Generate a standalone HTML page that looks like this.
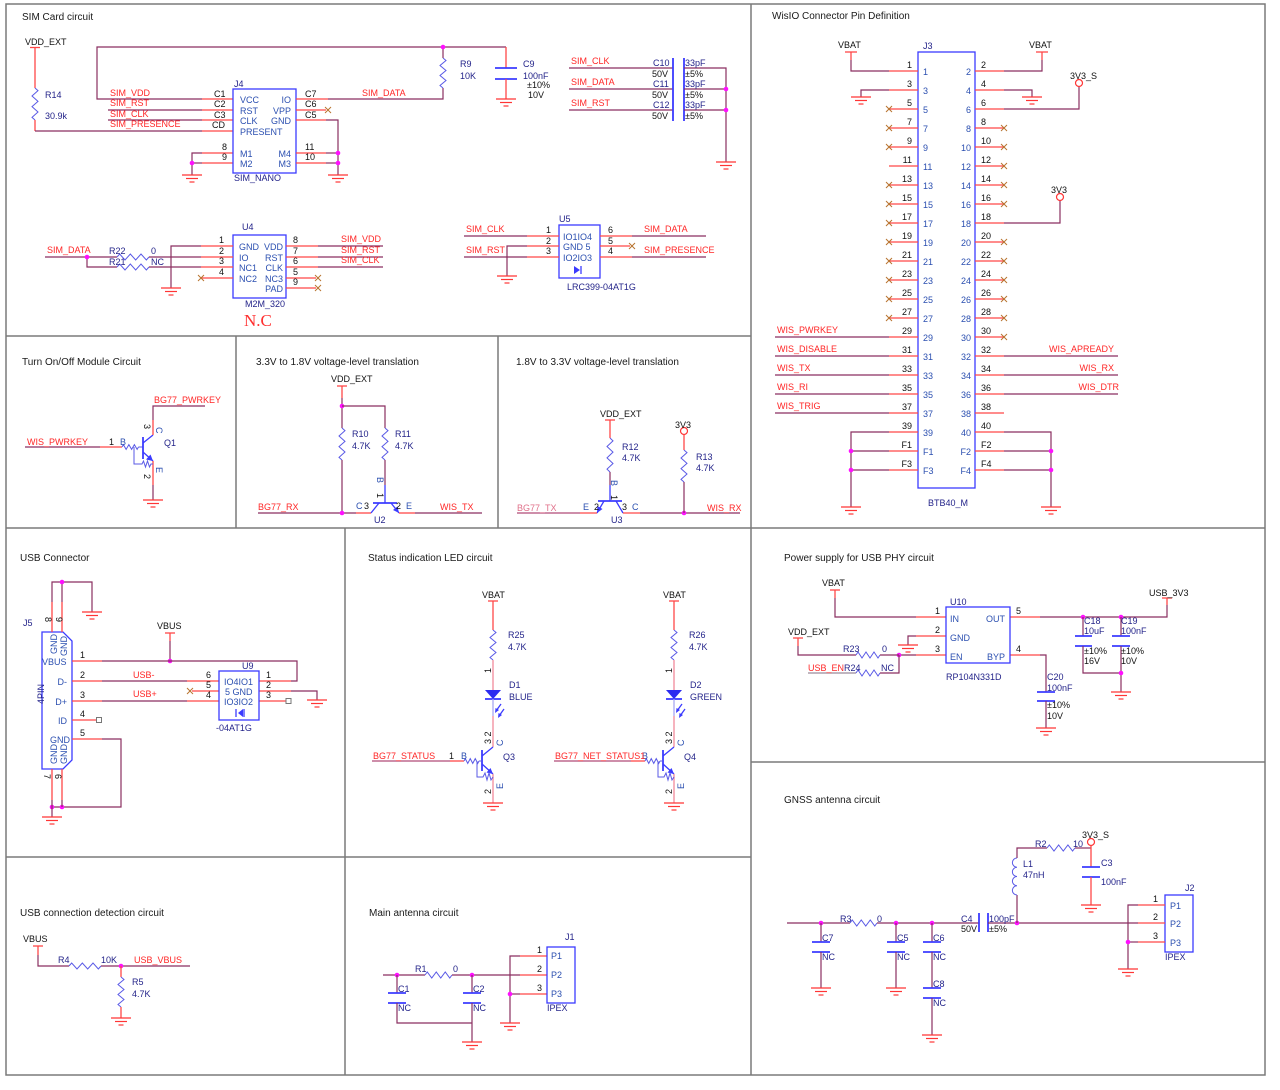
<!DOCTYPE html>
<html><head><meta charset="utf-8"><style>
html,body{margin:0;padding:0;background:#fff}
svg{display:block}
text{font-family:"Liberation Sans",Arial,sans-serif;font-size:9px}
.t{font-size:10px;fill:#1a1a1a}
.n{fill:#ff2626}
.r{fill:#24248a}
.k{fill:#111}
.i{fill:#2b4fb0}
.e{text-anchor:end}
.w{stroke:#8a2f60;stroke-width:1.2;fill:none}
.p{stroke:#ff4747;stroke-width:1.3;fill:none}
.b{stroke:#3b3bff;stroke-width:1.3;fill:none}
.bb{stroke:#3b3bff;stroke-width:1.8;fill:none}
.z{stroke:#5a5ae6;stroke-width:1;fill:none}
.fr{stroke:#7a7a7a;stroke-width:1.5;fill:none}
.d{fill:#ff10ff}
.o{stroke:#ff3535;stroke-width:1.2;fill:none}
</style></head><body>
<svg width="1280" height="1090" viewBox="0 0 1280 1090" xmlns="http://www.w3.org/2000/svg">
<defs>
<g id="gnd" stroke="#ff3535" stroke-width="1.2"><line x1="-10" y1="0" x2="10" y2="0"/><line x1="-6" y1="3.5" x2="6" y2="3.5"/><line x1="-2.5" y1="7" x2="2.5" y2="7"/></g>
<g id="xm" stroke="#b8732f" stroke-width="1"><line x1="-3" y1="-3" x2="3" y2="3"/><line x1="-3" y1="3" x2="3" y2="-3"/></g>
<polyline id="rv" fill="none" vector-effect="non-scaling-stroke" points="0,0 3,2.5 -3,7.5 3,12.5 -3,17.5 3,22.5 -3,27.5 0,30"/>
<polyline id="rh" fill="none" vector-effect="non-scaling-stroke" points="0,0 2.5,-3 7.5,3 12.5,-3 17.5,3 22.5,-3 27.5,3 30,0"/>
</defs>
<rect x="0" y="0" width="1280" height="1090" fill="#fff"/>

<!-- frame -->
<rect class="fr" x="6" y="4" width="1259" height="1071"/>
<line class="fr" x1="751" y1="4" x2="751" y2="1075"/>
<line class="fr" x1="6" y1="336" x2="751" y2="336"/>
<line class="fr" x1="236" y1="336" x2="236" y2="528"/>
<line class="fr" x1="498" y1="336" x2="498" y2="528"/>
<line class="fr" x1="6" y1="528" x2="1265" y2="528"/>
<line class="fr" x1="345" y1="528" x2="345" y2="1075"/>
<line class="fr" x1="6" y1="857" x2="751" y2="857"/>
<line class="fr" x1="751" y1="762" x2="1265" y2="762"/>

<!-- ============ SIM CARD ============ -->
<text class="t" x="22" y="20">SIM Card circuit</text>
<text class="k" x="25" y="45">VDD_EXT</text>
<line class="p" x1="30" y1="47.5" x2="40" y2="47.5"/>
<line class="p" x1="35" y1="47.5" x2="35" y2="88"/>
<use href="#rv" class="z" transform="translate(35,88) scale(1,1.067)"/>
<line class="p" x1="35" y1="120" x2="35" y2="131"/>
<text class="r" x="45" y="98">R14</text><text class="r" x="45" y="119">30.9k</text>
<polyline class="w" points="35,131 202,131"/>
<polyline class="w" points="202,99 97,99 97,47 506,47"/>
<line class="w" x1="108" y1="110" x2="202" y2="110"/>
<line class="w" x1="108" y1="120" x2="202" y2="120"/>
<path class="p" d="M202,99h31M202,110h31M202,120h31M202,131h31M202,153h31M202,163h31"/>
<text class="n" x="110" y="96">SIM_VDD</text>
<text class="n" x="110" y="106">SIM_RST</text>
<text class="n" x="110" y="117">SIM_CLK</text>
<text class="n" x="110" y="127">SIM_PRESENCE</text>
<text class="k" x="214" y="97">C1</text><text class="k" x="214" y="107">C2</text><text class="k" x="214" y="118">C3</text><text class="k" x="212" y="128">CD</text>
<text class="k" x="222" y="150">8</text><text class="k" x="222" y="160">9</text>
<rect class="b" x="233" y="89" width="63" height="84"/>
<text class="r" x="234" y="87">J4</text>
<text class="i" x="240" y="103">VCC</text><text class="i" x="240" y="114">RST</text><text class="i" x="240" y="124">CLK</text><text class="i" x="240" y="135">PRESENT</text>
<text class="i e" x="291" y="103">IO</text><text class="i e" x="291" y="114">VPP</text><text class="i e" x="291" y="124">GND</text>
<text class="i" x="240" y="157">M1</text><text class="i" x="240" y="167">M2</text>
<text class="i e" x="291" y="157">M4</text><text class="i e" x="291" y="167">M3</text>
<text class="r" x="234" y="181">SIM_NANO</text>
<path class="p" d="M296,99h32M296,110h30M296,120h30M296,153h30M296,163h30"/>
<text class="k" x="305" y="97">C7</text><text class="k" x="305" y="107">C6</text><text class="k" x="305" y="118">C5</text>
<text class="k" x="305" y="150">11</text><text class="k" x="305" y="160">10</text>
<use href="#xm" x="328" y="110"/>
<polyline class="w" points="328,99 443,99 443,88"/>
<polyline class="w" points="326,120 338,120 338,175"/>
<line class="w" x1="326" y1="153" x2="338" y2="153"/><line class="w" x1="326" y1="163" x2="338" y2="163"/>
<circle class="d" cx="338" cy="153" r="2.3"/><circle class="d" cx="338" cy="163" r="2.3"/>
<use href="#gnd" x="338" y="175"/>
<polyline class="w" points="202,153 192,153 192,175"/>
<line class="w" x1="192" y1="163" x2="202" y2="163"/>
<circle class="d" cx="192" cy="163" r="2.3"/>
<use href="#gnd" x="192" y="175"/>
<text class="n" x="362" y="96">SIM_DATA</text>
<use href="#rv" class="z" transform="translate(443,58)"/>
<line class="w" x1="443" y1="47" x2="443" y2="58"/>
<circle class="d" cx="443" cy="47" r="2.3"/>
<text class="r" x="460" y="67">R9</text><text class="r" x="460" y="79">10K</text>
<line class="p" x1="506" y1="47" x2="506" y2="68"/>
<line class="bb" x1="495" y1="68" x2="517" y2="68"/><line class="bb" x1="495" y1="79" x2="517" y2="79"/>
<line class="p" x1="506" y1="79" x2="506" y2="99"/>
<use href="#gnd" x="506" y="99"/>
<text class="r" x="523" y="67">C9</text><text class="r" x="523" y="79">100nF</text><text class="k" x="527" y="88">±10%</text><text class="k" x="528" y="98">10V</text>

<text class="n" x="571" y="64">SIM_CLK</text><text class="n" x="571" y="85">SIM_DATA</text><text class="n" x="571" y="106">SIM_RST</text>
<path class="w" d="M569,68h104M569,89h104M569,110h104"/>
<line class="bb" x1="673" y1="58" x2="673" y2="121"/><line class="bb" x1="684" y1="58" x2="684" y2="121"/>
<polyline class="w" points="684,68 726,68 726,162"/>
<path class="w" d="M684,89h42M684,110h42"/>
<circle class="d" cx="726" cy="89" r="2.3"/><circle class="d" cx="726" cy="110" r="2.3"/>
<use href="#gnd" x="726" y="162"/>
<text class="r" x="653" y="66">C10</text><text class="k" x="652" y="77">50V</text>
<text class="r" x="653" y="87">C11</text><text class="k" x="652" y="98">50V</text>
<text class="r" x="653" y="108">C12</text><text class="k" x="652" y="119">50V</text>
<text class="r" x="685" y="66">33pF</text><text class="k" x="685" y="77">±5%</text>
<text class="r" x="685" y="87">33pF</text><text class="k" x="685" y="98">±5%</text>
<text class="r" x="685" y="108">33pF</text><text class="k" x="685" y="119">±5%</text>

<!-- U4 -->
<rect class="b" x="233" y="235" width="53" height="63"/>
<text class="r" x="242" y="230">U4</text>
<path class="p" d="M201,246h32M201,257h32M201,267h32M201,278h32M286,246h32M286,257h32M286,267h32M286,278h30M286,288h30"/>
<text class="k" x="219" y="243">1</text><text class="k" x="219" y="254">2</text><text class="k" x="219" y="264">3</text><text class="k" x="219" y="275">4</text>
<text class="k" x="293" y="243">8</text><text class="k" x="293" y="254">7</text><text class="k" x="293" y="264">6</text><text class="k" x="293" y="275">5</text><text class="k" x="293" y="285">9</text>
<text class="i" x="239" y="250">GND</text><text class="i" x="239" y="261">IO</text><text class="i" x="239" y="271">NC1</text><text class="i" x="239" y="282">NC2</text>
<text class="i e" x="283" y="250">VDD</text><text class="i e" x="283" y="261">RST</text><text class="i e" x="283" y="271">CLK</text><text class="i e" x="283" y="282">NC3</text><text class="i e" x="283" y="292">PAD</text>
<polyline class="w" points="201,246 171,246 171,288"/>
<use href="#gnd" x="171" y="288"/>
<line class="w" x1="45" y1="257" x2="117" y2="257"/>
<use href="#rh" class="z" transform="translate(117,257) scale(1.067,1)"/>
<line class="w" x1="149" y1="257" x2="201" y2="257"/>
<polyline class="w" points="87,257 87,267 117,267"/>
<use href="#rh" class="z" transform="translate(117,267) scale(1.067,1)"/>
<line class="w" x1="149" y1="267" x2="201" y2="267"/>
<circle class="d" cx="87" cy="257" r="2.3"/>
<use href="#xm" x="201" y="278"/>
<use href="#xm" x="318" y="278"/><use href="#xm" x="318" y="288"/>
<path class="w" d="M318,246h65M318,257h65M318,267h65"/>
<text class="n" x="47" y="253">SIM_DATA</text>
<text class="r" x="109" y="254">R22</text><text class="r" x="151" y="254">0</text>
<text class="r" x="109" y="265">R21</text><text class="r" x="151" y="265">NC</text>
<text class="n" x="341" y="242">SIM_VDD</text><text class="n" x="341" y="253">SIM_RST</text><text class="n" x="341" y="263">SIM_CLK</text>
<text class="r" x="245" y="307">M2M_320</text>
<text x="244" y="326" style="font-family:'Liberation Serif',serif;font-size:17px;fill:#ff3030">N.C</text>

<!-- U5 -->
<rect class="b" x="559" y="225" width="41" height="53"/>
<text class="r" x="559" y="222">U5</text>
<path class="p" d="M527,236h32M527,246h32M527,257h32M600,236h32M600,246h30M600,257h32"/>
<path class="w" d="M464,236h63M464,257h63"/>
<polyline class="w" points="527,246 507,246 507,276"/>
<use href="#gnd" x="507" y="276"/>
<use href="#xm" x="632" y="246"/>
<path class="w" d="M632,236h74M632,257h74"/>
<text class="k" x="546" y="233">1</text><text class="k" x="546" y="244">2</text><text class="k" x="546" y="254">3</text>
<text class="k" x="608" y="233">6</text><text class="k" x="608" y="244">5</text><text class="k" x="608" y="254">4</text>
<text class="i" x="563" y="240">IO1IO4</text><text class="i" x="563" y="250">GND  5</text><text class="i" x="563" y="261">IO2IO3</text>
<polygon points="574,266 574,274 580,270" fill="#3b3bff"/><line class="b" x1="581" y1="266" x2="581" y2="274"/>
<text class="n" x="466" y="232">SIM_CLK</text><text class="n" x="466" y="253">SIM_RST</text>
<text class="n" x="644" y="232">SIM_DATA</text><text class="n" x="644" y="253">SIM_PRESENCE</text>
<text class="r" x="567" y="290">LRC399-04AT1G</text>

<!-- ============ WisIO ============ -->
<text class="t" x="772" y="19">WisIO Connector Pin Definition</text>
<rect class="b" x="918" y="52" width="57" height="436"/>
<text class="r" x="923" y="49">J3</text>
<text class="r" x="928" y="506">BTB40_M</text>
<path class="p" d="M889,71h29M889,90h29M889,109h29M889,128h29M889,147h29M889,166h29M889,185h29M889,204h29M889,223h29M889,242h29M889,261h29M889,280h29M889,299h29M889,318h29M889,337h29M889,356h29M889,375h29M889,394h29M889,413h29M889,432h29M889,451h29M889,470h29"/>
<path class="p" d="M975,71h29M975,90h29M975,109h29M975,128h29M975,147h29M975,166h29M975,185h29M975,204h29M975,223h29M975,242h29M975,261h29M975,280h29M975,299h29M975,318h29M975,337h29M975,356h29M975,375h29M975,394h29M975,413h29M975,432h29M975,451h29M975,470h29"/>
<g class="k e">
<text x="912" y="68">1</text><text x="912" y="87">3</text><text x="912" y="106">5</text><text x="912" y="125">7</text><text x="912" y="144">9</text><text x="912" y="163">11</text><text x="912" y="182">13</text><text x="912" y="201">15</text><text x="912" y="220">17</text><text x="912" y="239">19</text><text x="912" y="258">21</text><text x="912" y="277">23</text><text x="912" y="296">25</text><text x="912" y="315">27</text><text x="912" y="334">29</text><text x="912" y="353">31</text><text x="912" y="372">33</text><text x="912" y="391">35</text><text x="912" y="410">37</text><text x="912" y="429">39</text><text x="912" y="448">F1</text><text x="912" y="467">F3</text>
</g>
<g class="i">
<text x="923" y="75">1</text><text x="923" y="94">3</text><text x="923" y="113">5</text><text x="923" y="132">7</text><text x="923" y="151">9</text><text x="923" y="170">11</text><text x="923" y="189">13</text><text x="923" y="208">15</text><text x="923" y="227">17</text><text x="923" y="246">19</text><text x="923" y="265">21</text><text x="923" y="284">23</text><text x="923" y="303">25</text><text x="923" y="322">27</text><text x="923" y="341">29</text><text x="923" y="360">31</text><text x="923" y="379">33</text><text x="923" y="398">35</text><text x="923" y="417">37</text><text x="923" y="436">39</text><text x="923" y="455">F1</text><text x="923" y="474">F3</text>
</g>
<g class="i e">
<text x="971" y="75">2</text><text x="971" y="94">4</text><text x="971" y="113">6</text><text x="971" y="132">8</text><text x="971" y="151">10</text><text x="971" y="170">12</text><text x="971" y="189">14</text><text x="971" y="208">16</text><text x="971" y="227">18</text><text x="971" y="246">20</text><text x="971" y="265">22</text><text x="971" y="284">24</text><text x="971" y="303">26</text><text x="971" y="322">28</text><text x="971" y="341">30</text><text x="971" y="360">32</text><text x="971" y="379">34</text><text x="971" y="398">36</text><text x="971" y="417">38</text><text x="971" y="436">40</text><text x="971" y="455">F2</text><text x="971" y="474">F4</text>
</g>
<g class="k">
<text x="981" y="68">2</text><text x="981" y="87">4</text><text x="981" y="106">6</text><text x="981" y="125">8</text><text x="981" y="144">10</text><text x="981" y="163">12</text><text x="981" y="182">14</text><text x="981" y="201">16</text><text x="981" y="220">18</text><text x="981" y="239">20</text><text x="981" y="258">22</text><text x="981" y="277">24</text><text x="981" y="296">26</text><text x="981" y="315">28</text><text x="981" y="334">30</text><text x="981" y="353">32</text><text x="981" y="372">34</text><text x="981" y="391">36</text><text x="981" y="410">38</text><text x="981" y="429">40</text><text x="981" y="448">F2</text><text x="981" y="467">F4</text>
</g>
<use href="#xm" x="889" y="109"/><use href="#xm" x="889" y="128"/><use href="#xm" x="889" y="147"/><use href="#xm" x="889" y="185"/><use href="#xm" x="889" y="204"/><use href="#xm" x="889" y="223"/><use href="#xm" x="889" y="242"/><use href="#xm" x="889" y="261"/><use href="#xm" x="889" y="280"/><use href="#xm" x="889" y="299"/><use href="#xm" x="889" y="318"/>
<use href="#xm" x="1004" y="128"/><use href="#xm" x="1004" y="147"/><use href="#xm" x="1004" y="166"/><use href="#xm" x="1004" y="185"/><use href="#xm" x="1004" y="204"/><use href="#xm" x="1004" y="242"/><use href="#xm" x="1004" y="261"/><use href="#xm" x="1004" y="280"/><use href="#xm" x="1004" y="299"/><use href="#xm" x="1004" y="318"/><use href="#xm" x="1004" y="337"/>
<text class="k" x="838" y="48">VBAT</text><text class="k" x="1029" y="48">VBAT</text>
<line class="p" x1="845" y1="52" x2="857" y2="52"/><line class="p" x1="851" y1="52" x2="851" y2="60"/>
<polyline class="w" points="889,71 851,71 851,60"/>
<line class="p" x1="1036" y1="52" x2="1048" y2="52"/><line class="p" x1="1042" y1="52" x2="1042" y2="60"/>
<polyline class="w" points="1004,71 1042,71 1042,60"/>
<polyline class="w" points="889,90 861,90 861,97"/><use href="#gnd" x="861" y="97"/>
<polyline class="w" points="1004,90 1032,90 1032,97"/><use href="#gnd" x="1032" y="97"/>
<polyline class="w" points="1004,109 1079,109 1079,87"/><circle class="o" cx="1079" cy="83" r="3.5"/>
<text class="k" x="1070" y="79">3V3_S</text>
<polyline class="w" points="1004,223 1060,223 1060,201"/><circle class="o" cx="1060" cy="197" r="3.5"/>
<text class="k" x="1051" y="193">3V3</text>
<path class="w" d="M775,337h114M775,356h114M775,375h114M775,394h114M775,413h114M1004,356h114M1004,375h114M1004,394h114"/>
<text class="n" x="777" y="333">WIS_PWRKEY</text><text class="n" x="777" y="352">WIS_DISABLE</text><text class="n" x="777" y="371">WIS_TX</text><text class="n" x="777" y="390">WIS_RI</text><text class="n" x="777" y="409">WIS_TRIG</text>
<text class="n e" x="1114" y="352">WIS_APREADY</text><text class="n e" x="1114" y="371">WIS_RX</text><text class="n e" x="1119" y="390">WIS_DTR</text>
<polyline class="w" points="889,432 851,432 851,507"/><path class="w" d="M851,451h38M851,470h38"/>
<circle class="d" cx="851" cy="451" r="2.3"/><circle class="d" cx="851" cy="470" r="2.3"/><use href="#gnd" x="851" y="507"/>
<polyline class="w" points="1004,432 1051,432 1051,507"/><path class="w" d="M1004,451h47M1004,470h47"/>
<circle class="d" cx="1051" cy="451" r="2.3"/><circle class="d" cx="1051" cy="470" r="2.3"/><use href="#gnd" x="1051" y="507"/>

<!-- ============ Turn On/Off ============ -->
<text class="t" x="22" y="365">Turn On/Off Module Circuit</text>
<line class="w" x1="25" y1="447" x2="100" y2="447"/>
<line class="p" x1="100" y1="447" x2="122" y2="447"/>
<use href="#rh" class="z" transform="translate(122,447) scale(0.55,0.8)"/>
<line class="z" x1="138.5" y1="447" x2="143" y2="447"/>
<line class="bb" x1="143" y1="437" x2="143" y2="459"/>
<line class="b" x1="143" y1="443" x2="153" y2="435"/>
<line class="p" x1="153" y1="435" x2="153" y2="420"/>
<polyline class="w" points="153,420 153,406 205,406"/>
<line class="b" x1="143" y1="452" x2="153" y2="461"/>
<polygon points="153,461 146,459.5 150.5,454.5" fill="#3b3bff"/>
<line class="p" x1="153" y1="461" x2="153" y2="485"/>
<line class="w" x1="153" y1="485" x2="153" y2="500"/>
<use href="#gnd" x="153" y="500"/>
<polyline class="z" points="134,447 134,464 142,464 143.5,461 145.5,467 147.5,461 149.5,467 151,464 153,464"/>
<text class="n" x="27" y="445">WIS_PWRKEY</text>
<text class="k" x="109" y="445">1</text><text class="i" x="120" y="445">B</text>
<text class="r" x="164" y="446">Q1</text>
<text class="n" x="154" y="403">BG77_PWRKEY</text>
<text class="k" transform="translate(144,424) rotate(90)">3</text>
<text class="i" transform="translate(156,427) rotate(90)">C</text>
<text class="k" transform="translate(144,474) rotate(90)">2</text>
<text class="i" transform="translate(156,467) rotate(90)">E</text>

<!-- ============ 3.3 -> 1.8 ============ -->
<text class="t" x="256" y="365">3.3V to 1.8V voltage-level translation</text>
<text class="k" x="331" y="382">VDD_EXT</text>
<line class="p" x1="337" y1="386" x2="347" y2="386"/>
<line class="p" x1="342" y1="386" x2="342" y2="398"/>
<line class="w" x1="342" y1="398" x2="342" y2="428"/>
<use href="#rv" class="z" transform="translate(342,428) scale(1,1.067)"/>
<line class="w" x1="342" y1="460" x2="342" y2="513"/>
<circle class="d" cx="342" cy="406" r="2.3"/>
<polyline class="w" points="342,406 385,406 385,428"/>
<use href="#rv" class="z" transform="translate(385,428) scale(1,1.067)"/>
<line class="w" x1="385" y1="460" x2="385" y2="485"/>
<line class="b" x1="385" y1="485" x2="385" y2="503"/>
<line class="w" x1="258" y1="513" x2="356" y2="513"/>
<line class="p" x1="356" y1="513" x2="371" y2="513"/>
<line class="b" x1="371" y1="513" x2="379" y2="503"/>
<line class="bb" x1="373" y1="503" x2="397" y2="503"/>
<line class="b" x1="391" y1="503" x2="399" y2="513"/>
<polygon points="399,513 393,510 397.5,506.5" fill="#3b3bff"/>
<line class="p" x1="399" y1="513" x2="415" y2="513"/>
<line class="w" x1="415" y1="513" x2="482" y2="513"/>
<circle class="d" cx="342" cy="513" r="2.3"/>
<text class="r" x="352" y="437">R10</text><text class="r" x="352" y="449">4.7K</text>
<text class="r" x="395" y="437">R11</text><text class="r" x="395" y="449">4.7K</text>
<text class="n" x="258" y="510">BG77_RX</text><text class="n" x="440" y="510">WIS_TX</text>
<text class="i" x="356" y="509">C</text><text class="k" x="364" y="509">3</text>
<text class="k" x="396" y="509">2</text><text class="i" x="406" y="509">E</text>
<text class="r" x="374" y="523">U2</text>
<text class="i" transform="translate(377,477) rotate(90)">B</text>
<text class="k" transform="translate(377,493) rotate(90)">1</text>

<!-- ============ 1.8 -> 3.3 ============ -->
<text class="t" x="516" y="365">1.8V to 3.3V voltage-level translation</text>
<text class="k" x="600" y="417">VDD_EXT</text>
<line class="p" x1="605" y1="420" x2="615" y2="420"/>
<line class="p" x1="610" y1="420" x2="610" y2="438"/>
<use href="#rv" class="z" transform="translate(610,438) scale(1,1.133)"/>
<line class="w" x1="610" y1="472" x2="610" y2="485"/>
<line class="b" x1="610" y1="485" x2="610" y2="501"/>
<line class="bb" x1="598" y1="501" x2="622" y2="501"/>
<line class="b" x1="604" y1="501" x2="597" y2="513"/>
<polygon points="597,513 597.5,506 602.5,509" fill="#3b3bff"/>
<line class="b" x1="616" y1="501" x2="623" y2="513"/>
<line class="w" x1="517" y1="513" x2="580" y2="513" style="stroke:#b04a78"/>
<line class="p" x1="580" y1="513" x2="597" y2="513"/>
<line class="p" x1="623" y1="513" x2="640" y2="513"/>
<line class="w" x1="640" y1="513" x2="740" y2="513"/>
<circle class="d" cx="684" cy="513" r="2.3"/>
<circle class="o" cx="684" cy="431" r="3.5"/>
<line class="p" x1="684" y1="434.5" x2="684" y2="450"/>
<use href="#rv" class="z" transform="translate(684,450) scale(1,1.067)"/>
<line class="w" x1="684" y1="482" x2="684" y2="513"/>
<text class="r" x="622" y="450">R12</text><text class="r" x="622" y="461">4.7K</text>
<text class="k" x="675" y="428">3V3</text>
<text class="r" x="696" y="460">R13</text><text class="r" x="696" y="471">4.7K</text>
<text x="517" y="511" style="fill:#e0708a">BG77_TX</text>
<text class="n" x="707" y="511">WIS_RX</text>
<text class="i" x="583" y="510">E</text><text class="k" x="594" y="510">2</text>
<text class="k" x="622" y="510">3</text><text class="i" x="632" y="510">C</text>
<text class="r" x="611" y="523">U3</text>
<text class="i" transform="translate(611,480) rotate(90)">B</text>
<text class="k" transform="translate(611,495) rotate(90)">1</text>

<!-- ============ USB Connector ============ -->
<text class="t" x="20" y="561">USB Connector</text>
<text class="r" x="23" y="626">J5</text>
<polygon class="b" points="42,632 63,632 72,641 72,760 63,769 42,769"/>
<path class="p" d="M52,632v-30M62,632v-30M52,769v31M62,769v31"/>
<polyline class="w" points="52,602 52,582 92,582 92,612"/>
<line class="w" x1="62" y1="602" x2="62" y2="582"/>
<circle class="d" cx="62" cy="582" r="2.3"/>
<use href="#gnd" x="92" y="612"/>
<text class="k" transform="translate(45,617) rotate(90)">8</text>
<text class="k" transform="translate(56,617) rotate(90)">9</text>
<text class="i" transform="translate(57,654) rotate(-90)">GND</text>
<text class="i" transform="translate(67,656) rotate(-90)">GND</text>
<text class="i" x="42" y="665">VBUS</text>
<text class="i e" x="67" y="685">D-</text><text class="i e" x="67" y="705">D+</text><text class="i e" x="67" y="724">ID</text><text class="i e" x="70" y="743">GND</text>
<text class="i" transform="translate(57,764) rotate(-90)">GND</text>
<text class="i" transform="translate(67,764) rotate(-90)">GND</text>
<text class="r" transform="translate(44,704) rotate(-90)">4PIN</text>
<text class="k" transform="translate(44,774) rotate(90)">7</text>
<text class="k" transform="translate(55,774) rotate(90)">6</text>
<path class="p" d="M72,661h30M72,681h30M72,701h30M72,720h24M72,739h30"/>
<rect x="96.5" y="717.5" width="5" height="5" fill="#fff" stroke="#777" stroke-width="1"/>
<text class="k" x="80" y="658">1</text><text class="k" x="80" y="678">2</text><text class="k" x="80" y="698">3</text><text class="k" x="80" y="717">4</text><text class="k" x="80" y="736">5</text>
<polyline class="w" points="102,739 121,739 121,807 52,807"/>
<circle class="d" cx="52" cy="807" r="2.3"/><circle class="d" cx="62" cy="807" r="2.3"/>
<path class="w" d="M52,800v7M62,800v7"/>
<line class="w" x1="52" y1="807" x2="52" y2="817"/>
<use href="#gnd" x="52" y="817"/>
<text class="k" x="157" y="629">VBUS</text>
<line class="p" x1="165" y1="633" x2="175" y2="633"/>
<line class="p" x1="170" y1="633" x2="170" y2="641"/>
<line class="w" x1="170" y1="641" x2="170" y2="661"/>
<circle class="d" cx="170" cy="661" r="2.3"/>
<polyline class="w" points="102,661 297,661 297,681 291,681"/>
<line class="w" x1="102" y1="681" x2="187" y2="681"/>
<line class="w" x1="102" y1="701" x2="187" y2="701"/>
<path class="p" d="M187,681h32M192,691h27M187,701h32M259,681h32M259,691h32M259,701h27"/>
<use href="#xm" x="190" y="691"/>
<polyline class="w" points="291,691 317,691 317,700"/>
<use href="#gnd" x="317" y="700"/>
<rect x="286" y="698.5" width="5" height="5" fill="#fff" stroke="#777" stroke-width="1"/>
<rect class="b" x="219" y="671" width="40" height="49"/>
<text class="r" x="242" y="669">U9</text>
<text class="n" x="133" y="678">USB-</text><text class="n" x="133" y="697">USB+</text>
<text class="k" x="206" y="678">6</text><text class="k" x="206" y="688">5</text><text class="k" x="206" y="698">4</text>
<text class="k" x="266" y="678">1</text><text class="k" x="266" y="688">2</text><text class="k" x="266" y="698">3</text>
<text class="i" x="224" y="685">IO4IO1</text><text class="i" x="225" y="695">5  GND</text><text class="i" x="224" y="705">IO3IO2</text>
<line class="b" x1="236" y1="709" x2="236" y2="717"/><polygon points="243,709 238,713 243,717" fill="#3b3bff"/><line class="b" x1="244" y1="709" x2="244" y2="717"/>
<text class="r" x="216" y="731">-04AT1G</text>

<!-- ============ Status LED ============ -->
<text class="t" x="368" y="561">Status indication LED circuit</text>
<g id="ledA">
<text class="k" x="482" y="598">VBAT</text>
<line class="p" x1="488" y1="601" x2="498" y2="601"/>
<line class="p" x1="493" y1="601" x2="493" y2="630"/>
<use href="#rv" class="z" transform="translate(493,630)"/>
<line class="p" x1="493" y1="660" x2="493" y2="690" style="stroke:#f08a9a"/>
<polygon points="485,690 501,690 493,699" fill="#2b2bf0"/>
<line class="bb" x1="485" y1="699" x2="501" y2="699"/>
<line class="b" x1="493" y1="699" x2="493" y2="716" style="stroke:#a8a8f0"/>
<line class="p" x1="493" y1="716" x2="493" y2="747" style="stroke:#f08a9a"/>
<line class="b" x1="501" y1="704" x2="496" y2="711"/><polygon points="495,713 495.5,708 499,710" fill="#3b3bff"/>
<line class="b" x1="504" y1="709" x2="499" y2="716"/><polygon points="498,718 498.5,713 502,715" fill="#3b3bff"/>
<line class="bb" x1="482" y1="750" x2="482" y2="771"/>
<line class="b" x1="482" y1="756" x2="493" y2="747"/>
<line class="b" x1="482" y1="764" x2="493" y2="774"/>
<polygon points="493,774 486.5,772.5 490.5,768" fill="#3b3bff"/>
<line class="p" x1="493" y1="774" x2="493" y2="803" style="stroke:#f08a9a"/>
<use href="#gnd" x="493" y="803"/>
<line class="p" x1="450" y1="761" x2="464" y2="761"/>
<use href="#rh" class="z" transform="translate(464,761) scale(0.5,0.8)"/>
<line class="z" x1="479" y1="761" x2="482" y2="761"/>
<polyline class="z" points="477,761 477,777 483,777 485,773 487,780 489,773 491,780 493,777"/>
<text class="r" x="508" y="638">R25</text><text class="r" x="508" y="650">4.7K</text>
<text class="r" x="509" y="688">D1</text><text class="r" x="509" y="700">BLUE</text>
<text class="r" x="503" y="760">Q3</text>
<text class="i" x="461" y="759">B</text><text class="k" x="449" y="759">1</text>
<text class="k" transform="translate(491,673) rotate(-90)">1</text>
<text class="k" transform="translate(491,744) rotate(-90)">3 2</text>
<text class="i" transform="translate(503,746) rotate(-90)">C</text>
<text class="i" transform="translate(503,789) rotate(-90)">E</text>
<text class="k" transform="translate(491,794) rotate(-90)">2</text>
</g>
<line class="w" x1="372" y1="761" x2="450" y2="761" style="stroke:#b04a78"/>
<text class="n" x="373" y="759">BG77_STATUS</text>

<g transform="translate(181,0)">
<text class="k" x="482" y="598">VBAT</text>
<line class="p" x1="488" y1="601" x2="498" y2="601"/>
<line class="p" x1="493" y1="601" x2="493" y2="630"/>
<use href="#rv" class="z" transform="translate(493,630)"/>
<line class="p" x1="493" y1="660" x2="493" y2="690" style="stroke:#f08a9a"/>
<polygon points="485,690 501,690 493,699" fill="#2b2bf0"/>
<line class="bb" x1="485" y1="699" x2="501" y2="699"/>
<line class="b" x1="493" y1="699" x2="493" y2="716" style="stroke:#a8a8f0"/>
<line class="p" x1="493" y1="716" x2="493" y2="747" style="stroke:#f08a9a"/>
<line class="b" x1="501" y1="704" x2="496" y2="711"/><polygon points="495,713 495.5,708 499,710" fill="#3b3bff"/>
<line class="b" x1="504" y1="709" x2="499" y2="716"/><polygon points="498,718 498.5,713 502,715" fill="#3b3bff"/>
<line class="bb" x1="482" y1="750" x2="482" y2="771"/>
<line class="b" x1="482" y1="756" x2="493" y2="747"/>
<line class="b" x1="482" y1="764" x2="493" y2="774"/>
<polygon points="493,774 486.5,772.5 490.5,768" fill="#3b3bff"/>
<line class="p" x1="493" y1="774" x2="493" y2="803" style="stroke:#f08a9a"/>
<use href="#gnd" x="493" y="803"/>
<line class="p" x1="450" y1="761" x2="464" y2="761"/>
<use href="#rh" class="z" transform="translate(464,761) scale(0.5,0.8)"/>
<line class="z" x1="479" y1="761" x2="482" y2="761"/>
<polyline class="z" points="477,761 477,777 483,777 485,773 487,780 489,773 491,780 493,777"/>
<text class="r" x="508" y="638">R26</text><text class="r" x="508" y="650">4.7K</text>
<text class="r" x="509" y="688">D2</text><text class="r" x="509" y="700">GREEN</text>
<text class="r" x="503" y="760">Q4</text>
<text class="i" x="461" y="759">B</text>
<text class="k" transform="translate(491,673) rotate(-90)">1</text>
<text class="k" transform="translate(491,744) rotate(-90)">3 2</text>
<text class="i" transform="translate(503,746) rotate(-90)">C</text>
<text class="i" transform="translate(503,789) rotate(-90)">E</text>
<text class="k" transform="translate(491,794) rotate(-90)">2</text>
</g>
<line class="w" x1="554" y1="761" x2="631" y2="761" style="stroke:#b04a78"/>
<text class="n" x="555" y="759">BG77_NET_STATUS1</text>

<!-- ============ Power supply ============ -->
<text class="t" x="784" y="561">Power supply for USB PHY circuit</text>
<text class="k" x="822" y="586">VBAT</text>
<line class="p" x1="830" y1="590" x2="840" y2="590"/>
<line class="p" x1="835" y1="590" x2="835" y2="598"/>
<polyline class="w" points="835,598 835,617 916,617"/>
<path class="p" d="M916,617h30M916,636h30M916,655h30M1010,617h30M1010,655h30"/>
<polyline class="w" points="916,636 908,636 908,645"/>
<use href="#gnd" x="908" y="645"/>
<line class="w" x1="899" y1="655" x2="916" y2="655"/>
<circle class="d" cx="899" cy="655" r="2.3"/>
<text class="k" x="788" y="635">VDD_EXT</text>
<line class="p" x1="793" y1="638" x2="803" y2="638"/>
<line class="p" x1="798" y1="638" x2="798" y2="646"/>
<polyline class="w" points="798,646 798,655 856,655"/>
<use href="#rh" class="z" transform="translate(856,655) scale(0.8,1)"/>
<line class="w" x1="880" y1="655" x2="899" y2="655"/>
<line class="w" x1="808" y1="673" x2="856" y2="673" style="stroke:#9a8a9a"/>
<use href="#rh" class="z" transform="translate(856,673) scale(0.8,1)"/>
<polyline class="w" points="880,673 899,673 899,655"/>
<text class="r" x="843" y="652">R23</text><text class="r" x="882" y="652">0</text>
<text class="n" x="808" y="671">USB_EN</text><text class="r" x="844" y="671">R24</text><text class="r" x="881" y="671">NC</text>
<rect class="b" x="946" y="607" width="64" height="56"/>
<text class="r" x="950" y="605">U10</text>
<text class="k" x="935" y="614">1</text><text class="k" x="935" y="633">2</text><text class="k" x="935" y="652">3</text>
<text class="k" x="1016" y="614">5</text><text class="k" x="1016" y="652">4</text>
<text class="i" x="950" y="622">IN</text><text class="i" x="950" y="641">GND</text><text class="i" x="950" y="660">EN</text>
<text class="i e" x="1005" y="622">OUT</text><text class="i e" x="1005" y="660">BYP</text>
<text class="r" x="946" y="680">RP104N331D</text>
<polyline class="w" points="1040,617 1167,617 1167,605"/>
<line class="p" x1="1167" y1="605" x2="1167" y2="598"/>
<line class="p" x1="1162" y1="598" x2="1172" y2="598"/>
<text class="k" x="1149" y="596">USB_3V3</text>
<circle class="d" cx="1083" cy="617" r="2.3"/><circle class="d" cx="1121" cy="617" r="2.3"/>
<line class="w" x1="1083" y1="617" x2="1083" y2="636"/>
<line class="bb" x1="1075" y1="636" x2="1092" y2="636"/><line class="bb" x1="1075" y1="646" x2="1092" y2="646"/>
<polyline class="w" points="1083,646 1083,673 1121,673"/>
<line class="w" x1="1121" y1="617" x2="1121" y2="636"/>
<line class="bb" x1="1112" y1="636" x2="1130" y2="636"/><line class="bb" x1="1112" y1="646" x2="1130" y2="646"/>
<line class="w" x1="1121" y1="646" x2="1121" y2="692"/>
<circle class="d" cx="1121" cy="673" r="2.3"/>
<use href="#gnd" x="1121" y="692"/>
<polyline class="w" points="1040,655 1046,655 1046,692"/>
<line class="bb" x1="1037" y1="692" x2="1055" y2="692"/><line class="bb" x1="1037" y1="701" x2="1055" y2="701"/>
<line class="w" x1="1046" y1="701" x2="1046" y2="728"/>
<use href="#gnd" x="1046" y="728"/>
<text class="r" x="1084" y="624">C18</text><text class="r" x="1084" y="634">10uF</text><text class="k" x="1084" y="654">±10%</text><text class="k" x="1084" y="664">16V</text>
<text class="r" x="1121" y="624">C19</text><text class="r" x="1121" y="634">100nF</text><text class="k" x="1121" y="654">±10%</text><text class="k" x="1121" y="664">10V</text>
<text class="r" x="1047" y="680">C20</text><text class="r" x="1047" y="691">100nF</text><text class="k" x="1047" y="708">±10%</text><text class="k" x="1047" y="719">10V</text>

<!-- ============ GNSS ============ -->
<text class="t" x="784" y="803">GNSS antenna circuit</text>
<line class="w" x1="787" y1="923" x2="850" y2="923"/>
<use href="#rh" class="z" transform="translate(850,923) scale(0.9,1)"/>
<line class="w" x1="877" y1="923" x2="979" y2="923"/>
<line class="bb" x1="979" y1="913" x2="979" y2="932"/><line class="bb" x1="988" y1="913" x2="988" y2="932"/>
<line class="w" x1="988" y1="923" x2="1138" y2="923"/>
<circle class="d" cx="821" cy="923" r="2.3"/><circle class="d" cx="896" cy="923" r="2.3"/><circle class="d" cx="932" cy="923" r="2.3"/><circle class="d" cx="1017" cy="923" r="2.3"/>
<line class="w" x1="821" y1="923" x2="821" y2="942"/>
<line class="bb" x1="812" y1="942" x2="830" y2="942"/><line class="bb" x1="812" y1="952" x2="830" y2="952"/>
<line class="w" x1="821" y1="952" x2="821" y2="988"/><use href="#gnd" x="821" y="988"/>
<line class="w" x1="896" y1="923" x2="896" y2="942"/>
<line class="bb" x1="887" y1="942" x2="905" y2="942"/><line class="bb" x1="887" y1="952" x2="905" y2="952"/>
<line class="w" x1="896" y1="952" x2="896" y2="988"/><use href="#gnd" x="896" y="988"/>
<line class="w" x1="932" y1="923" x2="932" y2="942"/>
<line class="bb" x1="923" y1="942" x2="941" y2="942"/><line class="bb" x1="923" y1="952" x2="941" y2="952"/>
<line class="w" x1="932" y1="952" x2="932" y2="988"/>
<line class="bb" x1="923" y1="988" x2="941" y2="988"/><line class="bb" x1="923" y1="998" x2="941" y2="998"/>
<line class="w" x1="932" y1="998" x2="932" y2="1035"/><use href="#gnd" x="932" y="1035"/>
<text class="r" x="840" y="922">R3</text><text class="r" x="877" y="922">0</text>
<text class="r" x="822" y="941">C7</text><text class="r" x="822" y="960">NC</text>
<text class="r" x="897" y="941">C5</text><text class="r" x="897" y="960">NC</text>
<text class="r" x="933" y="941">C6</text><text class="r" x="933" y="960">NC</text>
<text class="r" x="933" y="987">C8</text><text class="r" x="933" y="1006">NC</text>
<text class="r" x="961" y="922">C4</text><text class="k" x="961" y="932">50V</text>
<text class="r" x="989" y="922">100pF</text><text class="k" x="989" y="932">±5%</text>
<line class="w" x1="1017" y1="923" x2="1017" y2="895"/>
<path class="z" d="M1017,895 A4.6,4.6 0 0 1 1017,885.75 A4.6,4.6 0 0 1 1017,876.5 A4.6,4.6 0 0 1 1017,867.25 A4.6,4.6 0 0 1 1017,858"/>
<polyline class="w" points="1017,858 1017,848 1047,848"/>
<use href="#rh" class="z" transform="translate(1047,848) scale(0.93,1)"/>
<line class="w" x1="1075" y1="848" x2="1091" y2="848"/>
<circle class="o" cx="1091" cy="842" r="3.5"/>
<line class="p" x1="1091" y1="845.5" x2="1091" y2="867"/>
<line class="bb" x1="1082" y1="867" x2="1100" y2="867"/><line class="bb" x1="1082" y1="877" x2="1100" y2="877"/>
<line class="p" x1="1091" y1="877" x2="1091" y2="905"/>
<use href="#gnd" x="1091" y="905"/>
<text class="r" x="1023" y="867">L1</text><text class="r" x="1023" y="878">47nH</text>
<text class="r" x="1035" y="847">R2</text><text class="r" x="1073" y="847">10</text>
<text class="k" x="1082" y="838">3V3_S</text>
<text class="r" x="1101" y="866">C3</text><text class="r" x="1101" y="885">100nF</text>
<rect class="b" x="1165" y="895" width="28" height="57"/>
<path class="p" d="M1138,905h27M1138,923h27M1138,942h27"/>
<polyline class="w" points="1138,905 1128,905 1128,969"/>
<line class="w" x1="1128" y1="942" x2="1138" y2="942"/>
<circle class="d" cx="1128" cy="942" r="2.3"/>
<use href="#gnd" x="1128" y="969"/>
<text class="r" x="1185" y="891">J2</text>
<text class="k" x="1153" y="902">1</text><text class="k" x="1153" y="920">2</text><text class="k" x="1153" y="939">3</text>
<text class="i" x="1170" y="909">P1</text><text class="i" x="1170" y="927">P2</text><text class="i" x="1170" y="946">P3</text>
<text class="r" x="1165" y="960">IPEX</text>

<!-- ============ USB detection ============ -->
<text class="t" x="20" y="916">USB connection detection circuit</text>
<text class="k" x="23" y="942">VBUS</text>
<line class="p" x1="33" y1="946" x2="43" y2="946"/>
<line class="p" x1="38" y1="946" x2="38" y2="955"/>
<polyline class="w" points="38,955 38,966 69,966"/>
<use href="#rh" class="z" transform="translate(69,966) scale(1.067,1)"/>
<line class="w" x1="101" y1="966" x2="190" y2="966"/>
<circle class="d" cx="121" cy="966" r="2.3"/>
<text class="r" x="58" y="963">R4</text><text class="r" x="101" y="963">10K</text>
<text class="n" x="134" y="963">USB_VBUS</text>
<line class="p" x1="121" y1="966" x2="121" y2="977"/>
<use href="#rv" class="z" transform="translate(121,977)"/>
<line class="p" x1="121" y1="1007" x2="121" y2="1018"/>
<use href="#gnd" x="121" y="1018"/>
<text class="r" x="132" y="985">R5</text><text class="r" x="132" y="997">4.7K</text>

<!-- ============ Main antenna ============ -->
<text class="t" x="369" y="916">Main antenna circuit</text>
<line class="w" x1="383" y1="975" x2="425" y2="975"/>
<use href="#rh" class="z" transform="translate(425,975) scale(0.9,1)"/>
<line class="w" x1="452" y1="975" x2="520" y2="975"/>
<path class="p" d="M520,956h27M520,975h27M520,994h27"/>
<circle class="d" cx="397" cy="975" r="2.3"/><circle class="d" cx="472" cy="975" r="2.3"/>
<line class="w" x1="397" y1="975" x2="397" y2="993"/>
<line class="bb" x1="388" y1="993" x2="406" y2="993"/><line class="bb" x1="388" y1="1003" x2="406" y2="1003"/>
<polyline class="w" points="397,1003 397,1023 472,1023"/>
<line class="w" x1="472" y1="975" x2="472" y2="993"/>
<line class="bb" x1="463" y1="993" x2="481" y2="993"/><line class="bb" x1="463" y1="1003" x2="481" y2="1003"/>
<line class="w" x1="472" y1="1003" x2="472" y2="1042"/>
<use href="#gnd" x="472" y="1042"/>
<polyline class="w" points="520,956 510,956 510,1023"/>
<line class="w" x1="510" y1="994" x2="520" y2="994"/>
<circle class="d" cx="510" cy="994" r="2.3"/>
<use href="#gnd" x="510" y="1023"/>
<rect class="b" x="547" y="947" width="28" height="56"/>
<text class="r" x="565" y="940">J1</text>
<text class="k" x="537" y="953">1</text><text class="k" x="537" y="972">2</text><text class="k" x="537" y="991">3</text>
<text class="i" x="551" y="959">P1</text><text class="i" x="551" y="978">P2</text><text class="i" x="551" y="997">P3</text>
<text class="r" x="547" y="1011">IPEX</text>
<text class="r" x="415" y="972">R1</text><text class="r" x="453" y="972">0</text>
<text class="r" x="398" y="992">C1</text><text class="r" x="398" y="1011">NC</text>
<text class="r" x="473" y="992">C2</text><text class="r" x="473" y="1011">NC</text>
</svg>
</body></html>
